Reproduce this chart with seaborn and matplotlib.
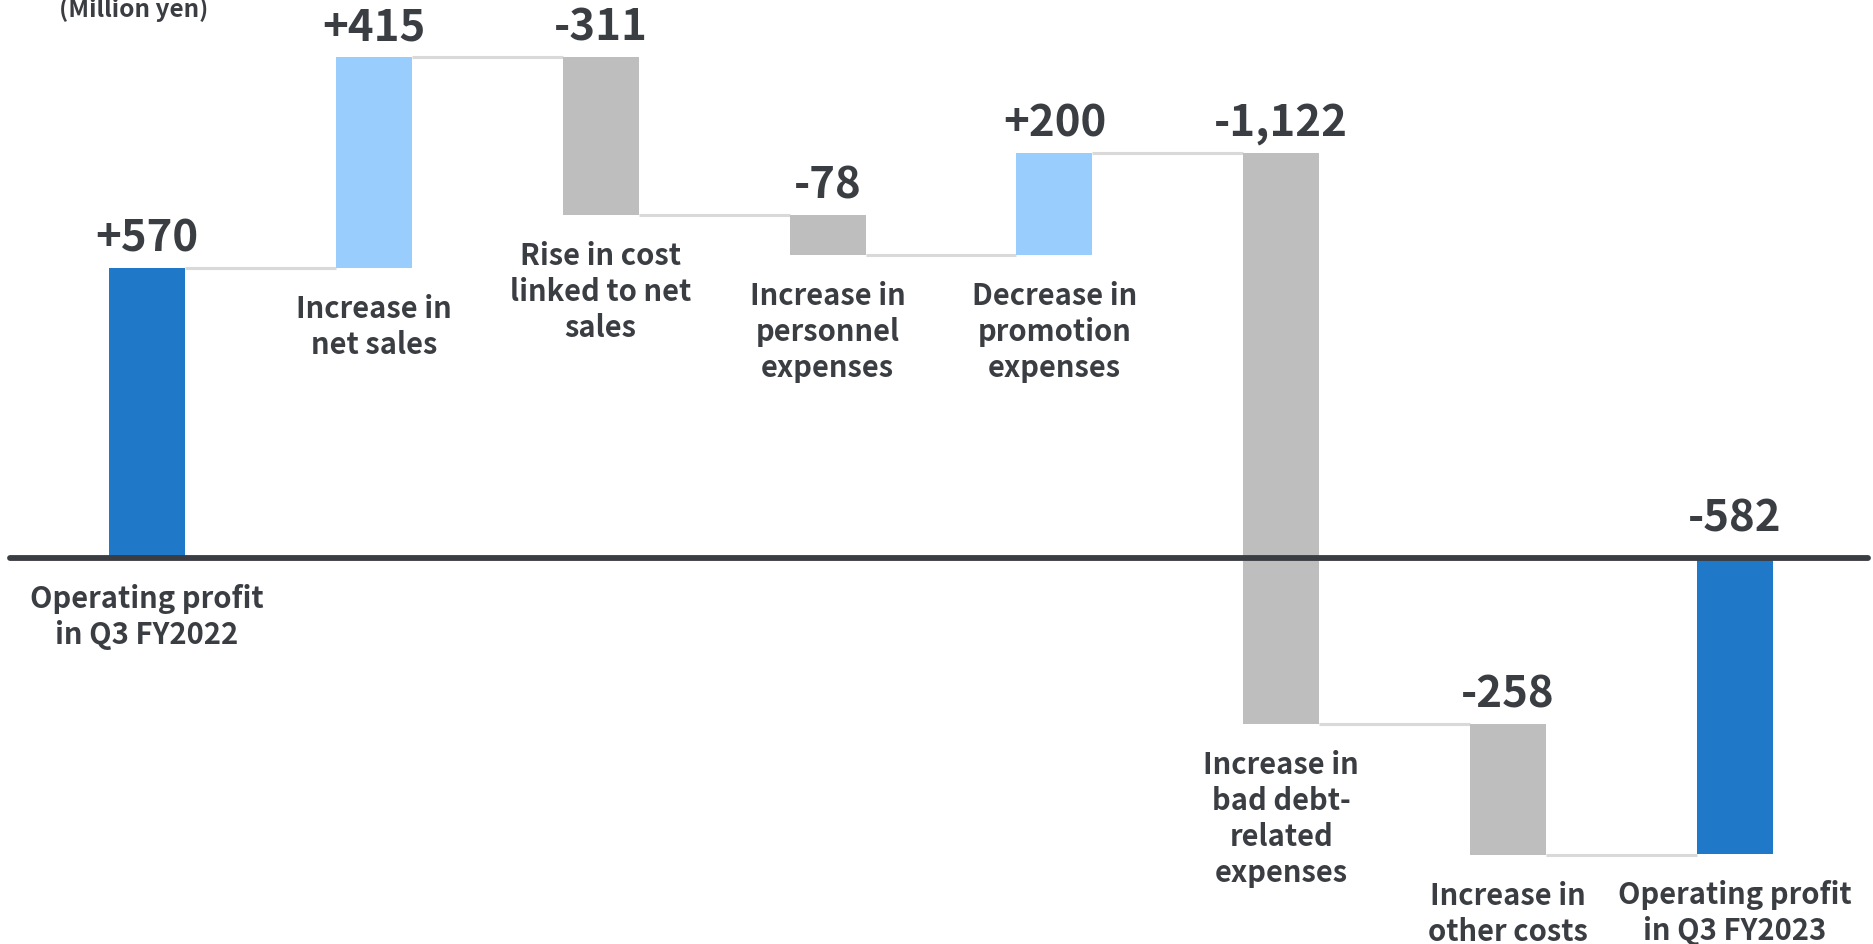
import matplotlib
matplotlib.use("Agg")
import matplotlib.pyplot as plt
import numpy as np
import pandas as pd
import seaborn as sns

# ---- data (million yen) ----
categories = [
    "Operating profit\nin Q3 FY2022",
    "Increase in\nnet sales",
    "Rise in cost\nlinked to net\nsales",
    "Increase in\npersonnel\nexpenses",
    "Decrease in\npromotion\nexpenses",
    "Increase in\nbad debt-\nrelated\nexpenses",
    "Increase in\nother costs",
    "Operating profit\nin Q3 FY2023",
]
start_value = 570
changes = [415, -311, -78, 200, -1122, -258]
end_value = -582
unit_label = "(Million yen)"

# ---- waterfall geometry from the values ----
heights = [start_value] + changes + [end_value]
bottoms = [0]
level = start_value
for c in changes:
    bottoms.append(level)
    level += c
bottoms.append(0)
levels_after = [b + h for b, h in zip(bottoms, heights)]

TOTAL_COLOR = "#1f78c8"
UP_COLOR = "#99cdfe"
DOWN_COLOR = "#bebebe"
TEXT_COLOR = "#3a3d42"
bar_colors = [TOTAL_COLOR] + [UP_COLOR if c > 0 else DOWN_COLOR for c in changes] + [TOTAL_COLOR]

sns.set_theme(style="white")
plt.rcParams["font.family"] = ["Noto Sans CJK JP", "DejaVu Sans"]

W, H, DPI = 1874, 944, 100
fig = plt.figure(figsize=(W / DPI, H / DPI), dpi=DPI)
ax = fig.add_axes([0, 0, 1, 1])

df = pd.DataFrame({"category": categories, "height": heights})
sns.barplot(data=df, x="category", y="height", order=categories,
            width=0.335, bottom=bottoms, color=TOTAL_COLOR,
            linewidth=0, edgecolor="none", ax=ax, zorder=2)
for patch, col in zip(ax.patches, bar_colors):
    patch.set_facecolor(col)

# axis limits: bar centres at 147 px and 1735 px, zero at y = 558 px
px_per_cat = (1735 - 147) / 7
px_per_unit = 0.509
ax.set_xlim(-147 / px_per_cat, (W - 147) / px_per_cat)
ax.set_ylim(-(H - 558) / px_per_unit, 558 / px_per_unit)
ax.axis("off")

# connectors between consecutive bars
half_w = 0.335 / 2
for i in range(len(heights) - 1):
    ax.plot([i + half_w, i + 1 - half_w], [levels_after[i], levels_after[i]],
            color="#d9d9d9", lw=2.2, zorder=1, solid_capstyle="butt")

# zero baseline
ax.axhline(0, xmin=10 / W, xmax=1868 / W, color=TEXT_COLOR, lw=4.2,
           solid_capstyle="round", zorder=3)

# value labels above each bar, category labels below
for i, (b, h) in enumerate(zip(bottoms, heights)):
    top = max(b, b + h)
    low = min(b, b + h)
    lift = 16 if top != 0 else 26
    ax.annotate(f"{h:+,}", xy=(i, top), xytext=(0, lift), textcoords="offset pixels",
                ha="center", va="baseline", fontsize=31.5, fontweight="bold",
                color=TEXT_COLOR, zorder=4)
    ax.annotate(categories[i], xy=(i, low), xytext=(0, -26), textcoords="offset pixels",
                ha="center", va="top", multialignment="center", fontsize=21,
                fontweight="bold", color=TEXT_COLOR, linespacing=1.25, zorder=4)

fig.text(134 / W, 1 - 17 / H, unit_label, ha="center", va="baseline",
         fontsize=17.5, fontweight="bold", color=TEXT_COLOR)

fig.savefig("out.png", dpi=DPI)
